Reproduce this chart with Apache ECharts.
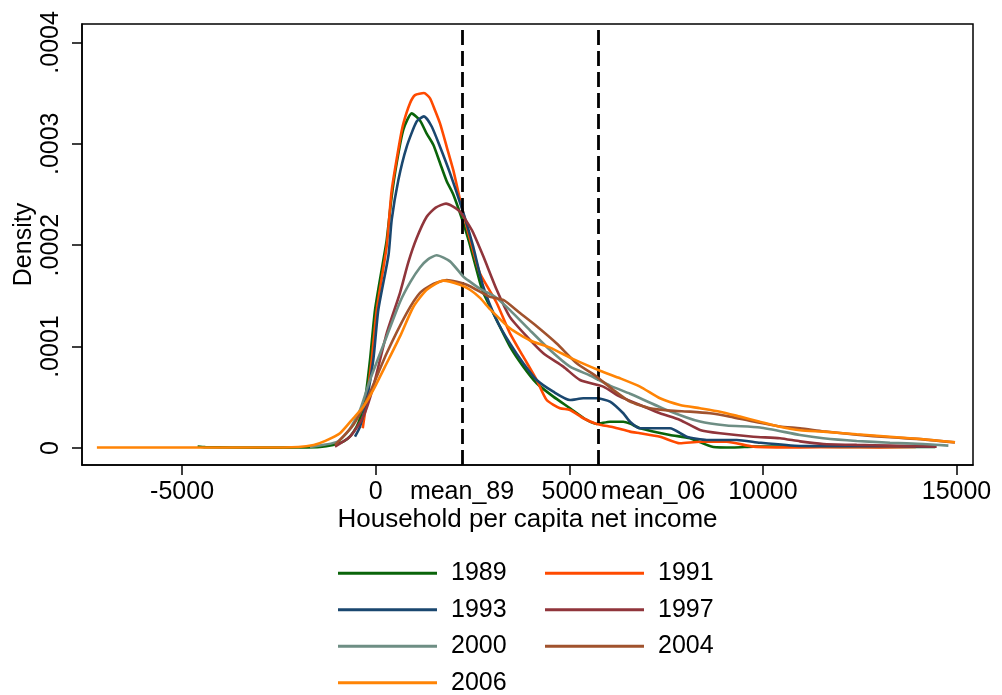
<!DOCTYPE html>
<html>
<head>
<meta charset="utf-8">
<script src="https://cdn.jsdelivr.net/npm/echarts@6/dist/echarts.min.js"></script>
<style>
html,body{margin:0;padding:0;background:#fff;}
#chart{width:1002px;height:695px;}
</style>
</head>
<body>
<div id="chart"></div>
<script>
// ---- data (income, density) ----
const years = ['1989', '1991', '1993', '1997', '2000', '2004', '2006'];
const xTicks = [-5000, 0, 5000, 10000, 15000];
const yTicks = [0, 0.0001, 0.0002, 0.0003, 0.0004];
const meanValues = [2229, 5741];
const meanLabels = ['mean_89', 'mean_06'];

const d1989 = [[-4600,0.0000015],[-4400,0.0000008],[-3000,0.0000003],[-2000,0.0000005],[-1438,0.000001],[-1100,0.000003],[-837,0.0000062],[-650,0.000012],[-491,0.000021],[-400,0.00003],[-276,0.0000473],[-147,0.0000868],[-18,0.000136],[196,0.000185],[284,0.000205],[413,0.000248],[542,0.000281],[714,0.000314],[929,0.00033],[1144,0.000323],[1317,0.00031],[1488,0.000299],[1661,0.000281],[1834,0.000263],[2004,0.00025],[2262,0.000222],[2435,0.0002],[2694,0.000163],[2779,0.000153],[3125,0.000126],[3468,0.0001],[3812,0.0000802],[4158,0.0000638],[4587,0.0000506],[5018,0.0000392],[5449,0.0000276],[5708,0.0000237],[6051,0.0000259],[6394,0.0000259],[6568,0.000024],[6826,0.0000194],[7600,0.0000128],[8117,0.0000096],[8719,0.000001],[9236,0.0000005],[9752,0.0000013],[10958,0.0000015],[12000,0.000001],[13000,0.0000012],[14000,0.000001],[14450,0.000001]];

const d1991 = [[-335,0.0000194],[-232,0.0000473],[-103,0.0000868],[26,0.000136],[284,0.000199],[413,0.000254],[628,0.000304],[714,0.00032],[886,0.00034],[1015,0.000348],[1247,0.00035],[1400,0.000345],[1531,0.000333],[1661,0.00032],[1834,0.000297],[2004,0.000274],[2177,0.000245],[2350,0.000218],[2564,0.000188],[2694,0.000172],[3125,0.000143],[3468,0.000113],[3812,0.00009],[4158,0.000067],[4416,0.0000473],[4760,0.0000392],[5018,0.0000375],[5362,0.0000293],[5708,0.0000237],[6137,0.0000204],[6568,0.0000161],[6826,0.0000145],[7342,0.0000111],[7859,0.0000046],[8376,0.0000062],[9065,0.0000062],[9752,0.0000013],[10958,0.0000005],[12000,0.000001],[13000,0.0000005],[13950,0.000001]];

const d1993 = [[-535,0.0000111],[-405,0.000021],[-232,0.0000473],[-62,0.0000868],[67,0.000136],[330,0.00019],[413,0.000225],[584,0.000264],[800,0.000297],[1059,0.000322],[1247,0.000327],[1446,0.000317],[1661,0.000297],[1919,0.000271],[2262,0.000232],[2435,0.00021],[2521,0.000198],[2779,0.000159],[3125,0.000126],[3468,0.000103],[3812,0.0000835],[4158,0.000067],[4587,0.0000555],[5018,0.0000473],[5362,0.000049],[5708,0.000049],[6051,0.0000457],[6394,0.0000342],[6568,0.0000259],[6826,0.0000194],[7600,0.0000194],[8032,0.0000111],[8548,0.0000079],[9323,0.0000079],[9925,0.0000052],[10958,0.000002],[12000,0.0000018],[13000,0.0000018],[14000,0.0000015],[14450,0.0000012]];

const d1997 = [[-1051,0.0000013],[-664,0.0000111],[-320,0.0000309],[-62,0.0000605],[284,0.000113],[628,0.000153],[842,0.000183],[1059,0.000207],[1317,0.000228],[1550,0.000237],[1816,0.000241],[2000,0.000238],[2177,0.000233],[2435,0.000218],[2521,0.000212],[2779,0.000189],[3125,0.000156],[3468,0.000129],[3900,0.00011],[4329,0.0000934],[4845,0.0000802],[5277,0.000067],[5878,0.0000605],[6310,0.0000506],[6826,0.0000424],[7342,0.0000342],[7859,0.0000276],[8376,0.0000178],[8892,0.0000145],[9752,0.0000111],[10441,0.0000096],[10958,0.0000065],[11560,0.0000039],[12422,0.000003],[13282,0.0000023],[14488,0.0000013]];

const d2000 = [[-1700,0.000001],[-1000,0.000006],[-700,0.000017],[-405,0.0000375],[-147,0.000067],[284,0.00011],[628,0.000144],[900,0.000164],[1144,0.000178],[1350,0.000186],[1575,0.00019],[1919,0.000184],[2262,0.000169],[2435,0.000164],[2694,0.000157],[2952,0.000152],[3125,0.000148],[3468,0.000136],[3985,0.000116],[4502,0.0000966],[5018,0.0000802],[5535,0.0000715],[6051,0.0000615],[6568,0.0000535],[7515,0.0000375],[8376,0.000026],[9065,0.0000222],[9925,0.0000202],[10958,0.0000128],[11560,0.0000096],[12422,0.0000069],[13282,0.0000052],[14142,0.0000039],[14790,0.0000023]];

const d2004 = [[-1050,0.000003],[-578,0.0000227],[-232,0.0000473],[284,0.0000934],[800,0.000133],[1144,0.000153],[1500,0.000162],[1834,0.0001657],[2350,0.000161],[2952,0.000149],[3296,0.000146],[3727,0.000133],[4158,0.00012],[4675,0.000103],[5191,0.0000835],[5708,0.0000703],[6137,0.0000572],[6568,0.0000457],[7084,0.0000391],[7600,0.0000368],[8117,0.0000358],[8634,0.0000342],[9151,0.0000309],[9752,0.000026],[10441,0.0000211],[10958,0.0000194],[11560,0.0000165],[12422,0.000013],[13282,0.0000105],[14142,0.0000085],[14961,0.0000055]];

const d2006 = [[-7200,0.0000005],[-5000,0.0000005],[-3000,0.0000005],[-2000,0.000001],[-1600,0.000003],[-1300,0.000007],[-922,0.0000145],[-578,0.0000293],[-320,0.0000407],[-62,0.0000572],[284,0.0000835],[628,0.00011],[971,0.000139],[1317,0.000156],[1746,0.000165],[2177,0.000161],[2435,0.000156],[2694,0.000148],[2952,0.000137],[3468,0.000118],[3985,0.000106],[4502,0.000099],[5103,0.0000876],[5793,0.0000762],[6310,0.0000687],[6826,0.0000605],[7342,0.000049],[7859,0.0000424],[8376,0.0000392],[8892,0.0000358],[9409,0.0000309],[9925,0.0000259],[10441,0.000021],[10958,0.0000175],[11560,0.0000161],[12422,0.0000135],[13282,0.0000111],[14142,0.0000086],[14961,0.0000056]];

const seriesData = [d1989, d1991, d1993, d1997, d2000, d2004, d2006];
const colors = ['#0a640a', '#ff4a00', '#1a476f', '#90353b', '#6e8e84', '#a0522d', '#ff8405'];

const FONT = '"Liberation Sans", Arial, sans-serif';
const chart = echarts.init(document.getElementById('chart'), null, {renderer: 'canvas'});

const series = years.map((y, i) => ({
  name: y,
  type: 'line',
  data: seriesData[i],
  showSymbol: false,
  smooth: 0.2,
  color: colors[i],
  lineStyle: {width: 2.6, color: colors[i]},
  z: 2 + i
}));
series[0].markLine = {
  silent: true,
  symbol: ['none', 'none'],
  label: {show: false},
  lineStyle: {color: '#000', type: [15, 6], width: 2.8},
  data: meanValues.map(v => ({xAxis: v}))
};

const xLabelValues = xTicks.concat(meanValues).sort((a, b) => a - b);

chart.setOption({
  backgroundColor: '#fff',
  animation: false,
  textStyle: {fontFamily: FONT},
  grid: {left: 82, top: 24, width: 891, height: 441, show: true, borderColor: '#000', borderWidth: 1.5,
         backgroundColor: '#fff', containLabel: false, outerBoundsMode: 'none'},
  xAxis: {
    type: 'value', min: -7585, max: 15426,
    name: 'Household per capita net income', nameLocation: 'middle', nameGap: 42, nameMoveOverlap: false,
    nameTextStyle: {fontSize: 26, color: '#000', fontFamily: FONT},
    axisLine: {show: true, onZero: false, lineStyle: {color: '#000', width: 1.5}},
    axisTick: {show: true, length: 10, customValues: xTicks, lineStyle: {color: '#000', width: 1.5}},
    axisLabel: {
      customValues: xLabelValues, fontSize: 25, color: '#000', margin: 15, fontFamily: FONT, hideOverlap: false,
      formatter: function (v) {
        const k = meanValues.indexOf(v);
        if (k === 0) return meanLabels[0];
        if (k === 1) return '{l|' + meanLabels[1] + '}';
        return String(v);
      },
      rich: {l: {fontSize: 25, color: '#000', fontFamily: FONT, padding: [0, 0, 0, 110]}}
    },
    splitLine: {show: false}
  },
  yAxis: {
    type: 'value', min: -0.0000168, max: 0.0004181,
    name: 'Density', nameLocation: 'middle', nameGap: 45, nameMoveOverlap: false,
    nameTextStyle: {fontSize: 25, color: '#000', fontFamily: FONT},
    axisLine: {show: true, onZero: false, lineStyle: {color: '#000', width: 1.5}},
    axisTick: {show: true, length: 10, customValues: yTicks, lineStyle: {color: '#000', width: 1.5}},
    axisLabel: {
      customValues: yTicks, rotate: 90, fontSize: 25, color: '#000', margin: 18, fontFamily: FONT,
      formatter: function (v) { return v === 0 ? '0' : v.toFixed(4).replace(/^0/, ''); }
    },
    splitLine: {show: false}
  },
  legend: {
    data: years, left: 338, top: 555, width: 430, orient: 'horizontal', padding: 0,
    icon: 'rect', itemWidth: 99, itemHeight: 3, itemGap: 0,
    textStyle: {fontSize: 25, color: '#000', fontFamily: FONT, lineHeight: 36.5, width: 94, padding: [0, 0, 0, 9]}
  },
  series: series
});
</script>
</body>
</html>
